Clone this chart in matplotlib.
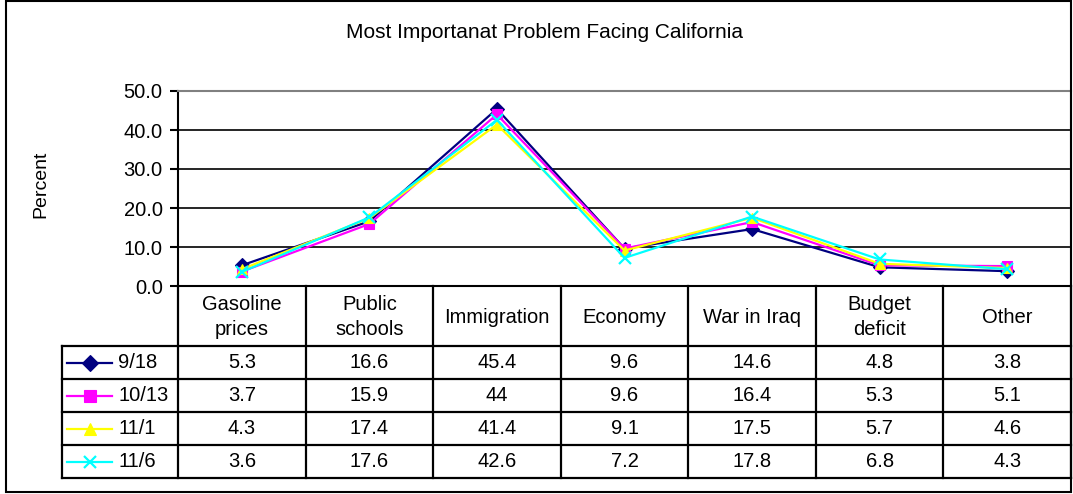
import matplotlib
matplotlib.use("Agg")
import matplotlib.pyplot as plt
from matplotlib.patches import Rectangle

plt.rcParams["font.family"] = ["Liberation Sans", "DejaVu Sans"]

categories = ["Gasoline\nprices", "Public\nschools", "Immigration", "Economy",
              "War in Iraq", "Budget\ndeficit", "Other"]
series_names = ["9/18", "10/13", "11/1", "11/6"]
v_0918 = [5.3, 16.6, 45.4, 9.6, 14.6, 4.8, 3.8]
v_1013 = [3.7, 15.9, 44, 9.6, 16.4, 5.3, 5.1]
v_1101 = [4.3, 17.4, 41.4, 9.1, 17.5, 5.7, 4.6]
v_1106 = [3.6, 17.6, 42.6, 7.2, 17.8, 6.8, 4.3]
series_values = [v_0918, v_1013, v_1101, v_1106]

colors = ["#000080", "#FF00FF", "#FFFF00", "#00FFFF"]
markers = ["D", "s", "^", "x"]

W, H = 1073, 494
FS = 14.5
fig = plt.figure(figsize=(W / 100, H / 100), dpi=100)


def fx(px):
    return px / W


def fy(py):
    return 1 - py / H


# outer frame and labels
fig.patches.append(Rectangle((fx(6), fy(492)), fx(1071) - fx(6), fy(1) - fy(492),
                             transform=fig.transFigure, fill=False,
                             edgecolor="black", linewidth=1.5))
fig.text(fx(545), fy(32), "Most Importanat Problem Facing California",
         ha="center", va="center", fontsize=15)
fig.text(fx(41), fy(184), "Percent", rotation=90, ha="center", va="center", fontsize=14)

# plot area
p_left, p_right, p_top, p_bot = 178, 1071, 91, 286
ax = fig.add_axes([fx(p_left), fy(p_bot), fx(p_right) - fx(p_left), fy(p_top) - fy(p_bot)])
n = len(categories)
xs = [i + 0.5 for i in range(n)]
for name, vals, c, m in zip(series_names, series_values, colors, markers):
    ax.plot(xs, vals, color=c, marker=m, markersize=7 if m != "x" else 8, linewidth=1.6,
            markeredgewidth=1.6 if m == "x" else 0.8, label=name)
ax.set_xlim(0, n)
ax.set_ylim(0, 50)
yt = [0, 10, 20, 30, 40, 50]
ax.set_yticks(yt)
ax.set_yticklabels([f"{t:.1f}" for t in yt], fontsize=FS)
ax.set_xticks([])
for y in yt[1:-1]:
    ax.axhline(y, color="black", linewidth=1.2, zorder=0)
for side in ["top", "right"]:
    ax.spines[side].set_color("#808080")
    ax.spines[side].set_linewidth(1.5)
ax.spines["left"].set_linewidth(1.5)
ax.spines["bottom"].set_linewidth(1.5)
ax.tick_params(axis="y", direction="out", length=6, width=1.5, pad=5)

# data table below the plot
t_left, t_bot = 62, 478
tab = fig.add_axes([fx(t_left), fy(t_bot), fx(p_right) - fx(t_left), fy(p_bot) - fy(t_bot)])
tab.set_xlim(t_left, p_right)
tab.set_ylim(t_bot, p_bot)
tab.axis("off")
col_w = (p_right - p_left) / n
col_edges = [p_left + i * col_w for i in range(n + 1)]
head_bot = 346
row_h = (t_bot - head_bot) / len(series_names)
row_edges = [head_bot + i * row_h for i in range(len(series_names) + 1)]

lk = dict(color="black", linewidth=1.6, clip_on=False)
for x in col_edges:
    tab.plot([x, x], [p_bot, t_bot], **lk)
tab.plot([t_left, t_left], [head_bot, t_bot], **lk)
for y in row_edges:
    tab.plot([t_left, p_right], [y, y], **lk)

for i, cat in enumerate(categories):
    tab.text((col_edges[i] + col_edges[i + 1]) / 2, (p_bot + head_bot) / 2 + 1, cat,
             ha="center", va="center", fontsize=FS, linespacing=1.4)

for r, (name, vals, c, m) in enumerate(zip(series_names, series_values, colors, markers)):
    yc = (row_edges[r] + row_edges[r + 1]) / 2
    tab.plot([67, 112], [yc, yc], color=c, linewidth=1.6)
    tab.plot([90], [yc], color=c, marker=m, markersize=8 if m != "x" else 9,
             markeredgewidth=1.6 if m == "x" else 0.8)
    tab.text(118, yc, name, ha="left", va="center", fontsize=FS)
    for i, v in enumerate(vals):
        tab.text((col_edges[i] + col_edges[i + 1]) / 2, yc, f"{v:g}",
                 ha="center", va="center", fontsize=FS)

fig.savefig("out.png", dpi=100)
